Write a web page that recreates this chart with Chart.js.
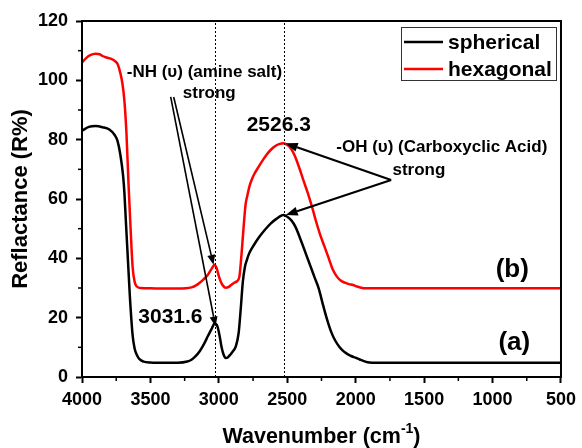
<!DOCTYPE html>
<html>
<head>
<meta charset="utf-8">
<script src="https://cdn.jsdelivr.net/npm/chart.js@4.4.1/dist/chart.umd.min.js"></script>
<style>
  html, body { margin: 0; padding: 0; background: #fff; }
</style>
</head>
<body>
<canvas id="ftirChart" width="582" height="448"></canvas>
<script>
// spherical (a) - black
const sphWn = [4000, 3950, 3900, 3850, 3800, 3760, 3740, 3720, 3700, 3690, 3680, 3665, 3650, 3630, 3615, 3600, 3580, 3550, 3500, 3400, 3300, 3230, 3200, 3170, 3140, 3110, 3080, 3050, 3031.6, 3010, 2995, 2980, 2965, 2950, 2935, 2915, 2895, 2875, 2855, 2840, 2825, 2810, 2795, 2780, 2760, 2730, 2700, 2660, 2620, 2580, 2540, 2526.3, 2500, 2470, 2440, 2400, 2360, 2330, 2300, 2270, 2240, 2210, 2180, 2150, 2120, 2090, 2060, 2030, 2000, 1970, 1930, 1900, 1800, 1600, 1400, 1200, 1000, 800, 600, 500];
const sphR = [83, 84.3, 84.6, 84.2, 83.4, 81.5, 79.5, 75, 68, 62, 53, 40, 27, 14, 9.5, 7.5, 6, 5.2, 4.9, 4.8, 4.8, 5.2, 5.8, 7, 8.7, 11, 13.8, 16.5, 18, 17, 14, 10, 7.5, 6.4, 6.6, 7.6, 8.8, 10.5, 15, 23, 32, 37, 39.5, 41.5, 43.3, 45.5, 47.5, 49.8, 51.8, 53.3, 54.5, 54.6, 54, 52.8, 50.6, 46, 41, 37.3, 33.5, 29.8, 24.5, 19.5, 15.3, 12.3, 10.2, 8.7, 7.7, 7, 6.5, 5.9, 5.2, 4.9, 4.8, 4.8, 4.8, 4.8, 4.8, 4.8, 4.8, 4.8];

// hexagonal (b) - red
const hexWn = [4000, 3970, 3940, 3900, 3870, 3850, 3820, 3790, 3760, 3740, 3720, 3705, 3690, 3675, 3660, 3645, 3630, 3615, 3600, 3570, 3500, 3400, 3300, 3200, 3170, 3140, 3110, 3080, 3050, 3031.6, 3015, 3000, 2985, 2970, 2950, 2930, 2910, 2890, 2870, 2850, 2835, 2820, 2805, 2790, 2775, 2760, 2740, 2710, 2680, 2650, 2620, 2590, 2560, 2526.3, 2500, 2480, 2460, 2440, 2410, 2380, 2350, 2320, 2290, 2260, 2230, 2200, 2170, 2140, 2110, 2080, 2050, 2020, 1990, 1960, 1930, 1900, 1800, 1600, 1400, 1200, 1000, 800, 600, 500];
const hexR = [106, 107.5, 108.5, 109, 108.8, 108.2, 107.7, 107.3, 106.5, 105.5, 102.5, 99, 93, 82, 65, 50, 37, 32, 30.5, 30, 29.9, 29.8, 29.8, 30.2, 30.8, 31.8, 33, 34.5, 36.7, 37.8, 36.5, 34, 32, 30.8, 30.1, 30.3, 31, 31.7, 32.2, 33.8, 41, 50, 58, 61.5, 64.5, 66.5, 68.5, 70.8, 73, 75, 76.6, 77.8, 78.5, 78.8, 78.2, 77.4, 76, 74, 70.2, 66, 62, 57.5, 52.5, 48, 44.2, 40.4, 36.5, 34, 32.5, 31.8, 31.3, 31, 30.5, 30.1, 29.9, 29.9, 29.9, 29.9, 29.9, 29.9, 29.9, 29.9, 29.9, 29.9];

const seriesNames = ['spherical', 'hexagonal'];
const peakMarks = [3031.6, 2526.3];
const xMinorTicks = [3750, 3250, 2750, 2250, 1750, 1250, 750];
const yMinorTicks = [10, 30, 50, 70, 90, 110];

const FONT = "'Liberation Sans', Arial, sans-serif";

function toPoints(xs, ys) {
    return xs.map((x, i) => ({ x: x, y: ys[i] }));
}

function drawArrow(ctx, x1, y1, x2, y2, width, headLen, headW) {
    const ang = Math.atan2(y2 - y1, x2 - x1);
    const bx = x2 - headLen * Math.cos(ang);
    const by = y2 - headLen * Math.sin(ang);
    ctx.lineWidth = width;
    ctx.beginPath();
    ctx.moveTo(x1, y1);
    ctx.lineTo(bx, by);
    ctx.stroke();
    ctx.beginPath();
    ctx.moveTo(x2, y2);
    ctx.lineTo(bx + headW * Math.sin(ang), by - headW * Math.cos(ang));
    ctx.lineTo(bx - headW * Math.sin(ang), by + headW * Math.cos(ang));
    ctx.closePath();
    ctx.fill();
}

const decorPlugin = {
    id: 'decor',
    afterDraw(chart) {
        const ctx = chart.ctx;
        const area = chart.chartArea;
        const xs = chart.scales.x;
        const ys = chart.scales.y;
        const px = v => xs.getPixelForValue(v);
        const py = v => ys.getPixelForValue(v);

        ctx.save();
        ctx.strokeStyle = '#000';
        ctx.fillStyle = '#000';

        // dotted peak markers
        ctx.lineWidth = 1;
        ctx.setLineDash([2, 2]);
        peakMarks.forEach(m => {
            const x = Math.round(px(m)) + 0.5;
            ctx.beginPath();
            ctx.moveTo(x, area.bottom);
            ctx.lineTo(x, area.top);
            ctx.stroke();
        });
        ctx.setLineDash([]);

        // frame
        ctx.lineWidth = 2;
        ctx.strokeRect(area.left, area.top, area.right - area.left, area.bottom - area.top);

        // minor ticks
        ctx.lineWidth = 1.5;
        xMinorTicks.forEach(v => {
            ctx.beginPath();
            ctx.moveTo(px(v), area.bottom);
            ctx.lineTo(px(v), area.bottom + 4);
            ctx.stroke();
        });
        yMinorTicks.forEach(v => {
            ctx.beginPath();
            ctx.moveTo(area.left, py(v));
            ctx.lineTo(area.left - 4, py(v));
            ctx.stroke();
        });

        // annotations
        ctx.textBaseline = 'middle';
        ctx.font = 'bold 17px ' + FONT;
        ctx.textAlign = 'left';
        ctx.fillText('-NH (\u03C5) (amine salt)', px(3673), py(102.8));
        ctx.textAlign = 'center';
        ctx.fillText('strong', px(3070), py(95.7));
        ctx.fillText('-OH (\u03C5) (Carboxyclic Acid)', px(1371), py(77.5));
        ctx.fillText('strong', px(1538), py(69.8));

        ctx.font = 'bold 21px ' + FONT;
        ctx.fillText(peakMarks[1].toFixed(1), px(2562), py(85));
        ctx.fillText(peakMarks[0].toFixed(1), px(3354), py(20.3));

        ctx.font = 'bold 26px ' + FONT;
        ctx.fillText('(b)', px(856), py(36));
        ctx.fillText('(a)', px(841), py(11.5));

        // arrows for NH band
        drawArrow(ctx, px(3330), py(94.4), px(peakMarks[0]) - 1, py(37.8), 1.6, 10, 4);
        drawArrow(ctx, px(3352), py(94.4), px(peakMarks[0]) + 1, py(17), 1.6, 10, 4);
        // arrows for OH band
        drawArrow(ctx, px(1741), py(66.4), px(peakMarks[1]) + 2, py(78.8), 2.2, 12, 4.5);
        drawArrow(ctx, px(1741), py(66.4), px(peakMarks[1]) + 2, py(54.6), 2.2, 12, 4.5);

        // legend
        const lx = 401, ly = 27, lw = 155, lh = 53;
        ctx.fillStyle = '#fff';
        ctx.fillRect(lx, ly, lw, lh);
        ctx.strokeStyle = '#333';
        ctx.lineWidth = 1;
        ctx.strokeRect(lx + 0.5, ly + 0.5, lw, lh);
        ctx.font = 'bold 21px ' + FONT;
        ctx.textAlign = 'left';
        ctx.textBaseline = 'middle';
        chart.data.datasets.forEach((ds, i) => {
            const yy = ly + 15 + i * 27;
            ctx.strokeStyle = ds.borderColor;
            ctx.lineWidth = 2.5;
            ctx.beginPath();
            ctx.moveTo(lx + 3, yy);
            ctx.lineTo(lx + 42, yy);
            ctx.stroke();
            ctx.fillStyle = '#000';
            ctx.fillText(ds.label, lx + 47, yy + 1);
        });

        // axis titles
        ctx.fillStyle = '#000';
        ctx.textBaseline = 'alphabetic';
        const main = 'Wavenumber (cm';
        ctx.font = 'bold 21.5px ' + FONT;
        const w1 = ctx.measureText(main).width;
        const wClose = ctx.measureText(')').width;
        ctx.font = 'bold 14px ' + FONT;
        const wSup = ctx.measureText('-1').width;
        const total = w1 + wSup + wClose;
        const tx = (area.left + area.right) / 2 - total / 2;
        const tb = 443;
        ctx.textAlign = 'left';
        ctx.font = 'bold 21.5px ' + FONT;
        ctx.fillText(main, tx, tb);
        ctx.font = 'bold 14px ' + FONT;
        ctx.fillText('-1', tx + w1, tb - 10);
        ctx.font = 'bold 21.5px ' + FONT;
        ctx.fillText(')', tx + w1 + wSup, tb);

        ctx.translate(21, (area.top + area.bottom) / 2);
        ctx.rotate(-Math.PI / 2);
        ctx.textAlign = 'center';
        ctx.textBaseline = 'middle';
        ctx.font = 'bold 22px ' + FONT;
        ctx.fillText('Reflactance (R%)', 0, 0);
        ctx.restore();
    }
};

const ctx = document.getElementById('ftirChart').getContext('2d');
new Chart(ctx, {
    type: 'line',
    data: {
        datasets: [{
            label: seriesNames[0],
            data: toPoints(sphWn, sphR),
            borderColor: '#000000',
            borderWidth: 2.5,
            pointRadius: 0,
            cubicInterpolationMode: 'monotone',
            fill: false
        }, {
            label: seriesNames[1],
            data: toPoints(hexWn, hexR),
            borderColor: '#ff0000',
            borderWidth: 2.5,
            pointRadius: 0,
            cubicInterpolationMode: 'monotone',
            fill: false
        }]
    },
    options: {
        responsive: false,
        animation: false,
        layout: { padding: { top: 21, right: 18, left: 0, bottom: 0 } },
        plugins: {
            legend: { display: false },
            tooltip: { enabled: false }
        },
        scales: {
            x: {
                type: 'linear',
                min: 500,
                max: 4000,
                reverse: true,
                afterFit: s => { s.height = 71; },
                ticks: {
                    stepSize: 500,
                    padding: 6,
                    color: '#000',
                    maxRotation: 0,
                    callback: v => String(v),
                    font: { family: FONT, size: 18, weight: 'bold' }
                },
                grid: { drawOnChartArea: false, tickLength: 6, tickWidth: 2, color: '#000' },
                border: { display: true, color: '#000', width: 2 }
            },
            y: {
                min: 0,
                max: 120,
                afterFit: s => { s.width = 82; },
                ticks: {
                    stepSize: 20,
                    padding: 8,
                    color: '#000',
                    callback: v => String(v),
                    font: { family: FONT, size: 18, weight: 'bold' }
                },
                grid: { drawOnChartArea: false, tickLength: 6, tickWidth: 2, color: '#000' },
                border: { display: true, color: '#000', width: 2 }
            }
        }
    },
    plugins: [decorPlugin]
});
</script>
</body>
</html>
